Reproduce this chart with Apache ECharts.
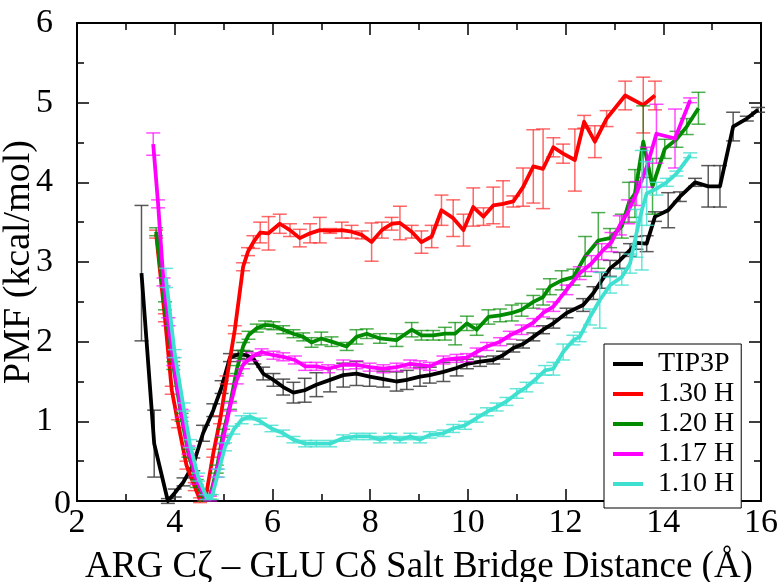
<!DOCTYPE html>
<html>
<head>
<meta charset="utf-8">
<script src="https://cdn.jsdelivr.net/npm/echarts@6/dist/echarts.min.js"></script>
<style>
html,body{margin:0;padding:0;background:#fff;}
#chart{width:783px;height:582px;}
</style>
</head>
<body>
<div id="chart"></div>
<script>
// ---- Data ----
const seriesNames = ['TIP3P', '1.30 H', '1.20 H', '1.17 H', '1.10 H'];
const seriesColors = ['#000000', '#ff0000', '#008b00', '#ff00ff', '#40e0d0'];
const errColors = ['rgba(60,60,60,0.85)', 'rgba(255,40,40,0.7)', 'rgba(0,139,0,0.7)', 'rgba(255,0,255,0.7)', 'rgba(64,224,208,0.8)'];

const tip3pX = [3.32, 3.58, 3.86, 4.00, 4.18, 4.38, 4.58, 4.79, 4.96, 5.13, 5.30, 5.47, 5.63, 5.81, 6.02, 6.22, 6.43, 6.66, 6.90, 7.18, 7.45, 7.72, 7.99, 8.27, 8.54, 8.75, 9.02, 9.22, 9.50, 9.77, 9.98, 10.25, 10.52, 10.72, 10.93, 11.13, 11.34, 11.54, 11.75, 12.02, 12.36, 12.57, 12.74, 12.91, 13.11, 13.32, 13.45, 13.66, 13.83, 14.10, 14.34, 14.65, 14.92, 15.16, 15.43, 15.71, 15.94];
const tip3pY = [2.86, 0.72, 0.00, 0.10, 0.24, 0.46, 0.85, 1.14, 1.43, 1.80, 1.84, 1.83, 1.77, 1.60, 1.52, 1.43, 1.36, 1.39, 1.46, 1.52, 1.58, 1.60, 1.56, 1.53, 1.50, 1.52, 1.56, 1.58, 1.62, 1.67, 1.72, 1.75, 1.77, 1.83, 1.92, 1.97, 2.06, 2.15, 2.23, 2.36, 2.46, 2.61, 2.77, 2.92, 3.02, 3.15, 3.24, 3.23, 3.57, 3.65, 3.82, 4.00, 3.95, 3.95, 4.70, 4.80, 4.91];
const tip3pErr = [0.85, 0.42, 0.03, 0.05, 0.05, 0.08, 0.10, 0.08, 0.08, 0.05, 0.05, 0.05, 0.05, 0.08, 0.08, 0.10, 0.13, 0.15, 0.15, 0.15, 0.15, 0.15, 0.12, 0.10, 0.12, 0.12, 0.12, 0.10, 0.12, 0.10, 0.06, 0.06, 0.05, 0.05, 0.05, 0.05, 0.05, 0.05, 0.06, 0.06, 0.08, 0.08, 0.10, 0.10, 0.10, 0.08, 0.08, 0.10, 0.06, 0.22, 0.06, 0.05, 0.26, 0.26, 0.18, 0.03, 0.03];

const h130X = [3.62, 3.80, 3.94, 4.07, 4.24, 4.41, 4.52, 4.65, 4.79, 4.93, 5.06, 5.23, 5.40, 5.50, 5.61, 5.75, 5.92, 6.15, 6.36, 6.56, 6.77, 6.97, 7.18, 7.42, 7.62, 7.83, 8.03, 8.24, 8.44, 8.61, 8.85, 9.05, 9.26, 9.46, 9.70, 9.91, 10.11, 10.32, 10.52, 10.72, 10.93, 11.13, 11.34, 11.54, 11.75, 11.95, 12.19, 12.38, 12.60, 12.84, 13.22, 13.59, 13.83];
const h130Y = [3.35, 2.30, 1.39, 0.97, 0.45, 0.18, 0.01, 0.10, 0.60, 1.02, 1.52, 2.15, 2.94, 3.13, 3.25, 3.37, 3.36, 3.48, 3.40, 3.30, 3.36, 3.40, 3.39, 3.40, 3.38, 3.34, 3.25, 3.40, 3.48, 3.49, 3.38, 3.25, 3.32, 3.65, 3.55, 3.40, 3.69, 3.57, 3.71, 3.73, 3.76, 3.94, 4.20, 4.17, 4.44, 4.36, 4.28, 4.76, 4.51, 4.80, 5.09, 4.97, 5.09];
const h130Err = [0.05, 0.05, 0.05, 0.05, 0.05, 0.05, 0.03, 0.03, 0.05, 0.05, 0.05, 0.05, 0.05, 0.05, 0.08, 0.13, 0.21, 0.12, 0.08, 0.11, 0.12, 0.16, 0.03, 0.10, 0.08, 0.05, 0.24, 0.10, 0.08, 0.21, 0.08, 0.14, 0.14, 0.19, 0.23, 0.20, 0.24, 0.11, 0.23, 0.29, 0.07, 0.24, 0.46, 0.50, 0.12, 0.12, 0.39, 0.08, 0.20, 0.10, 0.18, 0.35, 0.18];

const h120X = [3.62, 3.80, 3.97, 4.14, 4.28, 4.45, 4.60, 4.72, 4.86, 4.99, 5.13, 5.27, 5.40, 5.51, 5.68, 5.85, 6.02, 6.22, 6.43, 6.63, 6.80, 7.00, 7.21, 7.52, 7.72, 7.93, 8.20, 8.54, 8.85, 9.05, 9.29, 9.53, 9.74, 9.98, 10.18, 10.42, 10.66, 10.90, 11.10, 11.34, 11.54, 11.68, 11.92, 12.16, 12.40, 12.67, 12.91, 13.15, 13.30, 13.42, 13.59, 13.78, 14.03, 14.27, 14.48, 14.72];
const h120Y = [3.38, 2.45, 1.70, 1.05, 0.60, 0.22, 0.03, 0.05, 0.40, 0.85, 1.20, 1.65, 1.94, 2.08, 2.17, 2.21, 2.20, 2.15, 2.10, 2.06, 1.99, 2.04, 2.00, 1.94, 2.06, 2.10, 2.04, 2.02, 2.15, 2.08, 2.08, 2.10, 2.10, 2.23, 2.15, 2.31, 2.33, 2.36, 2.40, 2.50, 2.56, 2.69, 2.77, 2.81, 3.07, 3.27, 3.30, 3.45, 3.75, 3.86, 4.51, 3.95, 4.42, 4.54, 4.70, 4.93];
const h120Err = [0.05, 0.05, 0.05, 0.05, 0.05, 0.05, 0.03, 0.03, 0.05, 0.05, 0.05, 0.05, 0.05, 0.05, 0.05, 0.05, 0.05, 0.05, 0.05, 0.05, 0.06, 0.08, 0.06, 0.05, 0.09, 0.06, 0.06, 0.08, 0.09, 0.06, 0.06, 0.08, 0.14, 0.09, 0.07, 0.09, 0.08, 0.10, 0.08, 0.08, 0.10, 0.10, 0.12, 0.10, 0.25, 0.35, 0.12, 0.15, 0.25, 0.30, 0.45, 0.35, 0.12, 0.10, 0.10, 0.20];

const h117X = [3.56, 3.66, 3.77, 3.87, 3.97, 4.14, 4.28, 4.45, 4.62, 4.72, 4.86, 4.99, 5.13, 5.27, 5.40, 5.58, 5.78, 6.02, 6.22, 6.46, 6.67, 6.90, 7.14, 7.45, 7.72, 7.99, 8.27, 8.54, 8.82, 9.02, 9.22, 9.50, 9.77, 9.98, 10.18, 10.39, 10.66, 10.86, 11.10, 11.34, 11.54, 11.75, 12.02, 12.29, 12.53, 12.74, 12.94, 13.11, 13.28, 13.45, 13.66, 13.86, 14.24, 14.55];
const h117Y = [4.48, 3.73, 2.75, 2.25, 1.75, 1.10, 0.64, 0.26, 0.05, 0.03, 0.35, 0.77, 1.18, 1.52, 1.71, 1.81, 1.87, 1.83, 1.81, 1.77, 1.69, 1.69, 1.66, 1.71, 1.71, 1.68, 1.66, 1.68, 1.72, 1.71, 1.69, 1.77, 1.79, 1.80, 1.87, 1.94, 2.00, 2.08, 2.15, 2.24, 2.36, 2.44, 2.65, 2.86, 2.98, 3.13, 3.25, 3.46, 3.63, 3.86, 4.19, 4.61, 4.55, 5.03];
const h117Err = [0.14, 0.05, 0.05, 0.05, 0.05, 0.05, 0.05, 0.05, 0.03, 0.03, 0.05, 0.05, 0.05, 0.05, 0.05, 0.05, 0.04, 0.05, 0.05, 0.05, 0.05, 0.05, 0.05, 0.06, 0.05, 0.05, 0.05, 0.05, 0.05, 0.05, 0.05, 0.05, 0.05, 0.05, 0.05, 0.05, 0.05, 0.05, 0.06, 0.05, 0.05, 0.06, 0.06, 0.08, 0.10, 0.10, 0.12, 0.12, 0.15, 0.15, 0.25, 0.37, 0.37, 0.03];

const h110X = [3.82, 4.00, 4.18, 4.31, 4.48, 4.65, 4.76, 4.89, 5.03, 5.20, 5.37, 5.54, 5.75, 5.98, 6.22, 6.43, 6.67, 6.90, 7.18, 7.45, 7.72, 7.99, 8.20, 8.41, 8.61, 8.82, 9.02, 9.22, 9.50, 9.70, 9.94, 10.18, 10.39, 10.59, 10.79, 11.00, 11.20, 11.41, 11.58, 11.75, 11.95, 12.16, 12.29, 12.50, 12.70, 12.91, 13.15, 13.32, 13.45, 13.56, 13.66, 13.86, 14.07, 14.27, 14.55];
const h110Y = [2.80, 1.85, 1.18, 0.72, 0.30, 0.05, 0.05, 0.35, 0.68, 0.89, 1.02, 1.06, 1.00, 0.91, 0.85, 0.77, 0.72, 0.72, 0.72, 0.79, 0.81, 0.81, 0.77, 0.81, 0.77, 0.81, 0.77, 0.83, 0.85, 0.91, 0.95, 1.04, 1.12, 1.18, 1.25, 1.35, 1.43, 1.54, 1.64, 1.66, 1.87, 2.02, 2.06, 2.31, 2.52, 2.71, 2.81, 2.98, 3.36, 3.65, 3.86, 3.92, 4.00, 4.11, 4.34];
const h110Err = [0.12, 0.05, 0.05, 0.05, 0.05, 0.03, 0.03, 0.05, 0.05, 0.05, 0.05, 0.04, 0.04, 0.04, 0.04, 0.04, 0.04, 0.04, 0.04, 0.04, 0.04, 0.04, 0.04, 0.04, 0.04, 0.04, 0.04, 0.04, 0.04, 0.05, 0.05, 0.05, 0.05, 0.05, 0.05, 0.06, 0.06, 0.06, 0.06, 0.08, 0.10, 0.06, 0.06, 0.10, 0.35, 0.10, 0.10, 0.12, 0.30, 0.75, 0.40, 0.08, 0.05, 0.03, 0.03];

const xTitle = 'ARG Cζ – GLU Cδ Salt Bridge Distance (Å)';
const yTitle = 'PMF (kcal/mol)';

// ---- Build chart ----
const FONT = '"Liberation Serif", "DejaVu Serif", serif';
const allX = [tip3pX, h130X, h120X, h117X, h110X];
const allY = [tip3pY, h130Y, h120Y, h117Y, h110Y];
const allE = [tip3pErr, h130Err, h120Err, h117Err, h110Err];

const series = [];
seriesNames.forEach((name, i) => {
  const xs = allX[i], ys = allY[i], es = allE[i];
  series.push({
    type: 'custom',
    name: name + ' err',
    silent: true,
    z: 2 + i * 2,
    data: xs.map((x, k) => [x, ys[k] - es[k], ys[k] + es[k]]),
    encode: { x: 0, y: [1, 2] },
    renderItem: function (params, api) {
      const x = api.value(0);
      const pLo = api.coord([x, api.value(1)]);
      const pHi = api.coord([x, api.value(2)]);
      const hw = 7;
      const st = { stroke: errColors[i], lineWidth: 1.5 };
      return {
        type: 'group',
        children: [
          { type: 'line', shape: { x1: pLo[0], y1: pLo[1], x2: pHi[0], y2: pHi[1] }, style: st },
          { type: 'line', shape: { x1: pHi[0] - hw, y1: pHi[1], x2: pHi[0] + hw, y2: pHi[1] }, style: st },
          { type: 'line', shape: { x1: pLo[0] - hw, y1: pLo[1], x2: pLo[0] + hw, y2: pLo[1] }, style: st }
        ]
      };
    }
  });
  series.push({
    type: 'line',
    name: name,
    z: 3 + i * 2,
    data: xs.map((x, k) => [x, ys[k]]),
    showSymbol: false,
    symbol: 'none',
    lineStyle: { color: seriesColors[i], width: 3.8, join: 'round' },
    itemStyle: { color: seriesColors[i] }
  });
});

const axisCommon = {
  axisLine: { show: true, onZero: false, lineStyle: { color: '#000', width: 2 } },
  axisTick: { show: true, inside: true, length: 12, lineStyle: { color: '#000', width: 1.5 } },
  minorTick: { show: true, splitNumber: 2, length: 7, lineStyle: { color: '#000', width: 1.5 } },
  splitLine: { show: false }
};

const option = {
  animation: false,
  backgroundColor: '#fff',
  grid: { left: 77, right: 22, top: 23, bottom: 81, containLabel: false, outerBoundsMode: 'none' },
  xAxis: [
    Object.assign({
      type: 'value', min: 2, max: 16, interval: 2, position: 'bottom',
      axisLabel: { fontFamily: FONT, fontSize: 34, color: '#000', margin: 5, showMinLabel: true, showMaxLabel: true },
      name: xTitle, nameLocation: 'middle', nameGap: 48, nameMoveOverlap: false,
      nameTextStyle: { fontFamily: FONT, fontSize: 37, color: '#000' }
    }, axisCommon),
    Object.assign({
      type: 'value', min: 2, max: 16, interval: 2, position: 'top',
      axisLabel: { show: false }
    }, axisCommon)
  ],
  yAxis: [
    Object.assign({
      type: 'value', min: 0, max: 6, interval: 1, position: 'left',
      axisLabel: {
        fontFamily: FONT, fontSize: 34, color: '#000', margin: 6,
        formatter: v => v === 0 ? '{z|0}' : '{n|' + v + '}',
        rich: {
          n: { fontFamily: FONT, fontSize: 34, color: '#000', padding: [0, 18, 0, 0] },
          z: { fontFamily: FONT, fontSize: 34, color: '#000', padding: [6, 0, 0, 0] }
        }
      },
      name: yTitle, nameLocation: 'middle', nameGap: 39, nameRotate: 90, nameMoveOverlap: false,
      nameTextStyle: { fontFamily: FONT, fontSize: 38, color: '#000' }
    }, axisCommon),
    Object.assign({
      type: 'value', min: 0, max: 6, interval: 1, position: 'right',
      axisLabel: { show: false }
    }, axisCommon)
  ],
  legend: {
    data: seriesNames,
    orient: 'vertical',
    left: 604, top: 344,
    icon: 'rect',
    itemWidth: 30, itemHeight: 4, itemGap: 2,
    padding: [6, 7, 10, 9],
    borderColor: '#000', borderWidth: 1,
    backgroundColor: '#fff',
    textStyle: { fontFamily: FONT, fontSize: 28, color: '#000', lineHeight: 25, padding: [0, 0, 0, 10] }
  },
  series: series
};

const chart = echarts.init(document.getElementById('chart'), null, { renderer: 'canvas' });
chart.setOption(option);
</script>
</body>
</html>
